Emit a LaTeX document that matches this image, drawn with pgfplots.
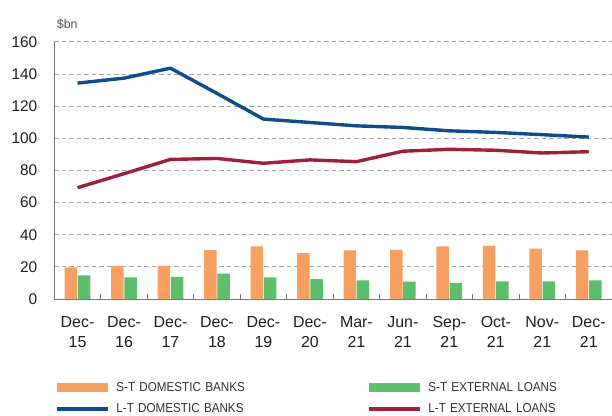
\documentclass[border=0pt]{standalone}
\usepackage{pgfplots}
\pgfplotsset{compat=1.18}
\usepackage{fontspec}
\setmainfont{Liberation Sans}
\newfontfamily\narrowfont[FakeStretch=0.9]{Liberation Sans}
\definecolor{cOrange}{RGB}{247,160,98}
\definecolor{cGreen}{RGB}{95,190,108}
\definecolor{cBlue}{RGB}{13,77,140}
\definecolor{cRed}{RGB}{158,32,58}
\definecolor{axisgray}{RGB}{120,120,120}
\definecolor{gridgray}{RGB}{165,165,165}
\definecolor{textcol}{RGB}{30,30,30}
\definecolor{labelgray}{RGB}{80,80,80}
\definecolor{legtext}{RGB}{50,50,50}
\begin{document}
\begin{tikzpicture}
\useasboundingbox (0bp,0bp) rectangle (612bp,416bp);
\begin{axis}[
  at={(54.3bp,117bp)}, anchor=south west,
  scale only axis, width=557.7bp, height=257bp,
  xmin=-0.5, xmax=11.5, ymin=0, ymax=160,
  clip=false,
  axis x line*=bottom, axis y line*=left,
  axis line style={draw=axisgray, line width=1bp},
  /pgf/number format/assume math mode=true,
  ytick={0,20,...,160},
  ymajorgrids,
  major grid style={dash pattern=on 4.5bp off 3bp, draw=gridgray, line width=1bp},
  xtick={0,...,11},
  xticklabels={{Dec-\\15},{Dec-\\16},{Dec-\\17},{Dec-\\18},{Dec-\\19},{Dec-\\20},{Mar-\\21},{Jun-\\21},{Sep-\\21},{Oct-\\21},{Nov-\\21},{Dec-\\21}},
  minor xtick={0.5,1.5,...,10.5},
  major tick length=0bp, minor tick length=5bp, tick align=inside,
  minor tick style={draw=axisgray, line width=1bp},
  yticklabel style={font=\fontsize{15.5}{18}\selectfont, text=textcol, inner xsep=0bp, anchor=east, xshift=-16.8bp},
  xticklabel style={font=\fontsize{16}{20.2}\selectfont, text=textcol, align=center, inner ysep=0bp, anchor=north, yshift=-17.5bp},
  legend columns=2,
  legend cell align=left,
  legend style={at={(0,0)}, anchor=north west, xshift=1.1bp, yshift=-77.75bp,
    draw=none, fill=none, inner sep=0bp, outer sep=0bp, column sep=0bp, row sep=0bp,
    font=\narrowfont\fontsize{13}{15}\selectfont, text=legtext,
    nodes={inner xsep=6.4bp, inner ysep=0bp, minimum height=21.5bp, text width=135bp, align=left},
    /tikz/every even column/.append style={column sep=109.6bp}},
]
\addplot[ybar, bar width=12.5bp, bar shift=-6.6bp, fill=cOrange, draw=none,
  legend image code/.code={\fill[cOrange] (0bp,-4.3bp) rectangle (51.2bp,4.3bp);}]
  coordinates {(0,19.7) (1,20.7) (2,20.7) (3,30.5) (4,32.8) (5,28.5) (6,30.2) (7,30.6) (8,32.8) (9,33.0) (10,31.4) (11,30.2)};
\addlegendentry{S-T DOMESTIC BANKS}
\addplot[ybar, bar width=12.5bp, bar shift=6.6bp, fill=cGreen, draw=none,
  legend image code/.code={\fill[cGreen] (0bp,-4.3bp) rectangle (51.2bp,4.3bp);}]
  coordinates {(0,14.7) (1,13.5) (2,13.7) (3,15.8) (4,13.5) (5,12.3) (6,11.6) (7,10.8) (8,10.0) (9,11.0) (10,11.0) (11,11.6)};
\addlegendentry{S-T EXTERNAL LOANS}
\addplot[cBlue, line width=3.4bp, line join=round, mark=none,
  legend image code/.code={\draw[cBlue, line width=3.4bp] (0bp,0bp) -- (51.2bp,0bp);}]
  coordinates {(0,134.4) (1,137.5) (2,143.7) (3,128.0) (4,112.0) (5,109.9) (6,107.8) (7,106.8) (8,104.7) (9,103.7) (10,102.3) (11,100.8)};
\addlegendentry{L-T DOMESTIC BANKS}
\addplot[cRed, line width=3.4bp, line join=round, mark=none,
  legend image code/.code={\draw[cRed, line width=3.4bp] (0bp,0bp) -- (51.2bp,0bp);}]
  coordinates {(0,69.3) (1,78.0) (2,86.9) (3,87.5) (4,84.5) (5,86.6) (6,85.5) (7,92.0) (8,93.2) (9,92.6) (10,90.9) (11,91.7)};
\addlegendentry{L-T EXTERNAL LOANS}
\node[anchor=base west, font=\fontsize{12.5}{14}\selectfont, text=labelgray, inner sep=0bp, xshift=2.4bp, yshift=13bp] at (rel axis cs:0,1) {\$bn};
\end{axis}
\end{tikzpicture}
\end{document}
